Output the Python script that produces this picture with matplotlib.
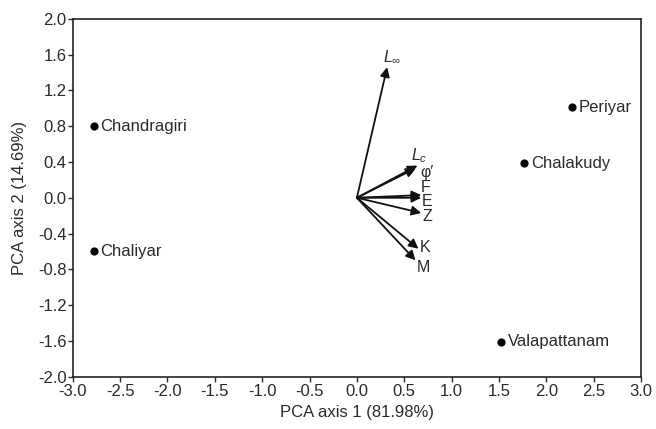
import matplotlib
matplotlib.use("Agg")
import matplotlib.pyplot as plt

plt.rcParams['font.family'] = ['Liberation Sans', 'DejaVu Sans']
plt.rcParams['mathtext.fontset'] = 'custom'
plt.rcParams['mathtext.it'] = 'Liberation Sans:italic'
plt.rcParams['mathtext.rm'] = 'Liberation Sans'

# site scores
sites = ['Chandragiri', 'Chaliyar', 'Periyar', 'Chalakudy', 'Valapattanam']
site_x = [-2.78, -2.78, 2.27, 1.77, 1.52]
site_y = [0.80, -0.60, 1.01, 0.385, -1.61]

# variable loadings (arrow tips) and label positions
variables = [r'$L_{\infty}$', r'$L_c$', "\u03c6\u2032", 'F', 'E', 'Z', 'K', 'M']
var_x = [0.32, 0.64, 0.62, 0.68, 0.68, 0.68, 0.65, 0.62]
var_y = [1.46, 0.36, 0.33, 0.03, 0.00, -0.17, -0.57, -0.70]
label_x = [0.37, 0.66, 0.74, 0.73, 0.74, 0.74, 0.72, 0.70]
label_y = [1.58, 0.47, 0.28, 0.11, -0.045, -0.205, -0.56, -0.78]

xticks = [-3.0, -2.5, -2.0, -1.5, -1.0, -0.5, 0.0, 0.5, 1.0, 1.5, 2.0, 2.5, 3.0]
yticks = [-2.0, -1.6, -1.2, -0.8, -0.4, 0.0, 0.4, 0.8, 1.2, 1.6, 2.0]

fig = plt.figure(figsize=(6.56, 4.29), dpi=100)
ax = fig.add_axes([0.111, 0.122, 0.866, 0.834])

ax.scatter(site_x, site_y, s=24, color='black', zorder=3)
for name, x, y in zip(sites, site_x, site_y):
    ax.annotate(name, (x, y), xytext=(5, 0), textcoords='offset points',
                va='center', ha='left', fontsize=12, color='#2a2a2a')

for tx, ty in zip(var_x, var_y):
    ax.annotate('', xy=(tx, ty), xytext=(0, 0),
                arrowprops=dict(arrowstyle='-|>', color='#111111', lw=1.3,
                                mutation_scale=14, shrinkA=0, shrinkB=0))
for lab, lx, ly in zip(variables, label_x, label_y):
    ax.text(lx, ly, lab, fontsize=11.5, ha='center', va='center', color='#2a2a2a')

ax.set_xlim(-3.0, 3.0)
ax.set_ylim(-2.0, 2.0)
ax.set_xticks(xticks)
ax.set_yticks(yticks)
ax.set_xticklabels([f'{v:.1f}' for v in xticks])
ax.set_yticklabels([f'{v:.1f}' for v in yticks])
ax.tick_params(direction='out', length=3.5, width=1, labelsize=12,
               colors='#2a2a2a', top=False, right=False)
ax.tick_params(axis='y', pad=1)
ax.tick_params(axis='x', pad=2)
for sp in ax.spines.values():
    sp.set_linewidth(1.2)
    sp.set_color('#222222')

ax.set_xlabel('PCA axis 1 (81.98%)', fontsize=12, color='#2a2a2a', labelpad=4)
ax.set_ylabel('PCA axis 2 (14.69%)', fontsize=12, color='#2a2a2a', labelpad=8)

fig.savefig('out.png', dpi=100)
